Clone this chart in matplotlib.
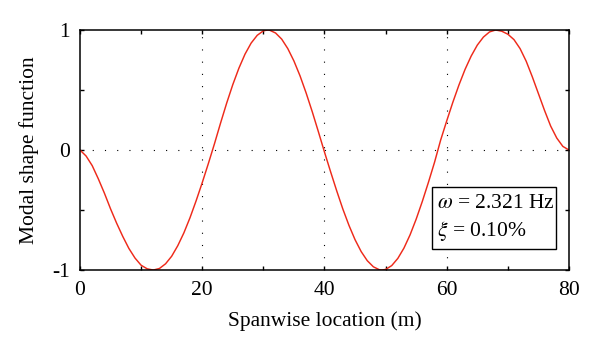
import numpy as np
import matplotlib
matplotlib.use('Agg')
import matplotlib.pyplot as plt
from matplotlib.ticker import MultipleLocator
from matplotlib.patches import Rectangle

plt.rcParams['font.family'] = ['Liberation Serif', 'DejaVu Serif']
plt.rcParams['mathtext.fontset'] = 'stix'

# Mode shape (spanwise location in m, normalised amplitude)
span = [0, 1, 2, 3, 4, 5, 6, 7, 8, 9, 10, 11, 12, 13, 14, 15, 16, 17, 18, 19, 20,
        21, 22, 23, 24, 25, 26, 27, 28, 29, 30, 30.7, 31, 32, 33, 34, 35, 36, 37, 38, 39, 40,
        41, 42, 43, 44, 45, 46, 47, 48, 49, 49.4, 50, 51, 52, 53, 54, 55, 56, 57, 58, 59, 60,
        61, 62, 63, 64, 65, 66, 67, 68, 69, 70, 71, 72, 73, 74, 75, 76, 77, 78, 79, 80]
shape = [0.0, -0.05, -0.13, -0.24, -0.36, -0.49, -0.61, -0.72, -0.82, -0.90, -0.96, -0.99, -1.0,
         -0.987, -0.948, -0.885, -0.797, -0.690, -0.564, -0.423, -0.272,
         -0.113, 0.052, 0.225, 0.391, 0.545, 0.682, 0.799, 0.891, 0.956, 0.993, 1.0, 0.999,
         0.975, 0.924, 0.845, 0.742, 0.618, 0.475, 0.319, 0.153, -0.017,
         -0.181, -0.340, -0.491, -0.627, -0.747, -0.846, -0.922, -0.973, -0.998, -1.0, -0.995,
         -0.963, -0.903, -0.817, -0.707, -0.576, -0.429, -0.270, -0.103, 0.082, 0.243,
         0.398, 0.542, 0.672, 0.783, 0.874, 0.941, 0.984, 1.0, 0.99, 0.965, 0.92, 0.845,
         0.74, 0.61, 0.47, 0.33, 0.20, 0.10, 0.03, 0.0]

xticks = [0, 20, 40, 60, 80]
yticks = [-1, 0, 1]
ytick_labels = ['-1', '0', '1']
info_lines = ['$\\omega$ = 2.321 Hz', '$\\xi$ = 0.10%']

fig = plt.figure(figsize=(6, 3.53), dpi=100)
ax = fig.add_axes([0.1333, 0.235, 0.815, 0.68])

ax.plot(span, shape, color='#ee2a1a', linewidth=1.05)

ax.set_xlim(0, 80)
ax.set_ylim(-1, 1)
ax.set_xticks(xticks)
ax.set_yticks(yticks)
ax.set_yticklabels(ytick_labels)
ax.xaxis.set_minor_locator(MultipleLocator(10))
ax.yaxis.set_minor_locator(MultipleLocator(0.5))
ax.tick_params(which='both', direction='in', top=True, right=True, length=3, width=1, labelsize=15.5)
ax.tick_params(axis='x', pad=8)
ax.tick_params(axis='y', pad=7)
for s in ax.spines.values():
    s.set_linewidth(1.1)

for g in xticks[1:-1]:
    ax.axvline(g, color='black', linestyle=(0, (1, 10)), linewidth=0.8, zorder=0)
ax.axhline(0, color='black', linestyle=(0, (1, 10)), linewidth=0.8, zorder=0)

ax.set_xlabel('Spanwise location (m)', fontsize=15.5, labelpad=8)
ax.set_ylabel('Modal shape function', fontsize=15.5, labelpad=10)

# info box
ax.add_patch(Rectangle((57.6, -0.825), 20.3, 0.517, facecolor='white',
                       edgecolor='black', linewidth=1, zorder=3))
ax.text(58.4, -0.442, info_lines[0], fontsize=15.5, va='center', ha='left', zorder=4)
ax.text(58.4, -0.675, info_lines[1], fontsize=15.5, va='center', ha='left', zorder=4)

fig.savefig('out.png', dpi=100)
